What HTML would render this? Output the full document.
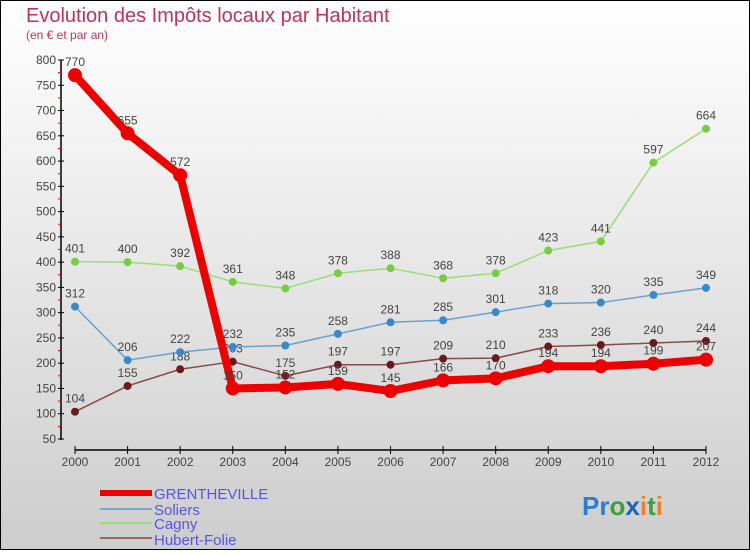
<!DOCTYPE html>
<html><head><meta charset="utf-8"><style>
html,body{margin:0;padding:0}
body{width:750px;height:550px;overflow:hidden;font-family:"Liberation Sans",sans-serif}
</style></head><body>
<svg width="750" height="550" xmlns="http://www.w3.org/2000/svg">
<defs><linearGradient id="bg" x1="0" y1="0" x2="0" y2="1"><stop offset="0" stop-color="#ffffff"/><stop offset="1" stop-color="#cdcdcd"/></linearGradient></defs>
<rect x="0.5" y="0.5" width="749" height="549" fill="url(#bg)" stroke="#000"/>
<text x="26" y="22" font-size="20" fill="#c0305a">Evolution des Impôts locaux par Habitant</text>
<text x="26" y="39" font-size="12" fill="#c0305a">(en € et par an)</text>
<g id="axes"></g>
<g id="series"></g>
<g id="legend" font-size="15" fill="#5555ee">
<rect x="100" y="490" width="52" height="6" fill="#ee0000"/>
<text x="154" y="499">GRENTHEVILLE</text>
<line x1="100" y1="509" x2="152" y2="509" stroke="#7aa8cc" stroke-width="2"/>
<text x="154" y="515">Soliers</text>
<line x1="100" y1="523" x2="152" y2="523" stroke="#99dd77" stroke-width="2"/>
<text x="154" y="529">Cagny</text>
<line x1="100" y1="538" x2="152" y2="538" stroke="#996666" stroke-width="2"/>
<text x="154" y="545">Hubert-Folie</text>
</g>
<text x="582" y="515" font-size="26" font-weight="bold"><tspan fill="#2a7fd0">Pr</tspan><tspan fill="#3aa040">o</tspan><tspan fill="#2060c0">x</tspan><tspan fill="#f08020">i</tspan><tspan fill="#3aa040">t</tspan><tspan fill="#f08020">i</tspan></text>
</svg>
<script>
const years=[2000,2001,2002,2003,2004,2005,2006,2007,2008,2009,2010,2011,2012];
const grentheville=[770,655,572,150,152,159,145,166,170,194,194,199,207];
const soliers=[312,206,222,232,235,258,281,285,301,318,320,335,349];
const cagny=[401,400,392,361,348,378,388,368,378,423,441,597,664];
const hubertFolie=[104,155,188,203,175,197,197,209,210,233,236,240,244];
const yTicks=[50,100,150,200,250,300,350,400,450,500,550,600,650,700,750,800];
const NS="http://www.w3.org/2000/svg";
const X=i=>75+i*(631/12);
const Y=v=>60+(800-v)*(379/750);
function mk(t,a,p){const e=document.createElementNS(NS,t);for(const k in a)e.setAttribute(k,a[k]);p.appendChild(e);return e;}
const ax=document.getElementById('axes');
let yl=mk('line',{x1:61,y1:60,x2:61,y2:440,stroke:'#000','stroke-width':1.5},ax);


yTicks.forEach(v=>{
 mk('line',{x1:58,x2:64,y1:Y(v),y2:Y(v),stroke:'#000'},ax);
 if(v<800) mk('line',{x1:58,x2:62,y1:Y(v+25),y2:Y(v+25),stroke:'#e00'},ax);
 const t=mk('text',{x:56,y:Y(v)+4,'font-size':12,fill:'#444','text-anchor':'end'},ax);
 t.textContent=v;
 
 
});
let xl=mk('line',{x1:X(0),y1:450,x2:X(12),y2:450,stroke:'#000','stroke-width':1.5},ax);


years.forEach((y,i)=>{
 mk('line',{x1:X(i),x2:X(i),y1:446,y2:454,stroke:'#000'},ax);
 const t=mk('text',{x:X(i),y:466,'font-size':12,fill:'#444','text-anchor':'middle'},ax);
 t.textContent=y;
 
 
});
const sg=document.getElementById('series');
function draw(data,color,dot,w,r,name){
 const g=mk('g',{},sg);
 
 
 const pl=mk('polyline',{points:data.map((v,i)=>X(i)+','+Y(v)).join(' '),fill:'none',stroke:color,'stroke-width':w,'stroke-linejoin':'round'},g);
 
 
 data.forEach((v,i)=>{
  const c=mk('circle',{cx:X(i),cy:Y(v),r:r,fill:dot},g);
  
  
  const t=mk('text',{x:X(i),y:Y(v)-9,'font-size':12,fill:'#444','text-anchor':'middle'},g);
  t.textContent=v;
  
  
 });
}
draw(hubertFolie,'#8a4a4a','#6a1a1a',1.5,4,'hubert-folie');
draw(cagny,'#99dd77','#77cc44',1.5,4,'cagny');
draw(soliers,'#6aa0d0','#3a88cc',1.5,4,'soliers');
draw(grentheville,'#ee0000','#ee0000',8,7,'grentheville');
</script>
</body></html>
